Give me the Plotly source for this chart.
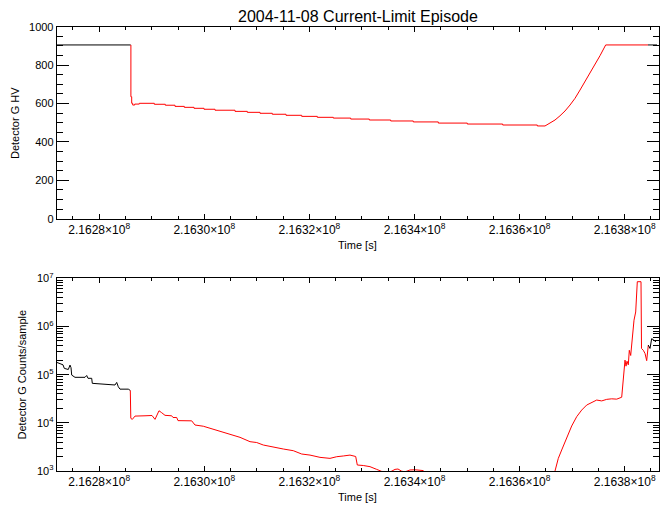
import plotly.graph_objects as go

# ---------------- data ----------------
# Top panel: Detector G HV (volts) vs time [s]
hv_black_t = [216271912, 216285994]
hv_black_v = [905, 905]

hv_step_t = [216285994, 216286033, 216286185, 216286375, 216286756, 216287631,
             216290486, 216292579, 216294425, 216296195, 216298040, 216299943,
             216302037, 216305843, 216308183, 216310600, 216312941, 216315548,
             216318536, 216321504, 216324549, 216327861, 216331400, 216335473,
             216339773, 216344531, 216350050, 216356786, 216363370, 216364836]
hv_step_v = [905, 635, 601, 592, 597, 601,
             596, 591, 585, 580, 575, 570,
             565, 559, 554, 549, 544, 538.5,
             533, 528, 524, 519, 514, 509,
             504, 498, 493, 488, 483, 483]

hv_ramp_t = [216364836, 216365787, 216366739, 216367690, 216368642, 216369593,
             216370545, 216371496, 216372448, 216373399, 216374351, 216375302,
             216376387, 216384437]
hv_ramp_v = [483, 497, 514, 536, 561, 592,
             627, 670, 714, 757, 800, 849,
             905, 905]

hv_end_t = [216384437, 216386149]
hv_end_v = [905, 905]

# Bottom panel: Detector G counts/sample vs time [s]
cnt_black_t = [216271912, 216272540, 216273111, 216273359, 216274120, 216274443,
               216274633, 216274767, 216275395, 216277298, 216277621, 216277869,
               216278573, 216278687, 216281104, 216283007, 216283330, 216283635,
               216283958, 216285538, 216285918]
cnt_black_v = [1.8e5, 1.7e5, 1.6e5, 1.35e5, 1.28e5, 1.58e5,
               1.4e5, 9.8e4, 8.8e4, 8.8e4, 9.6e4, 8.4e4,
               8.4e4, 6.6e4, 6.4e4, 6.1e4, 6.9e4, 5.6e4,
               5.0e4, 5.0e4, 4.7e4]

cnt_red_t = [216285918, 216286013, 216286299, 216286813, 216288716, 216290048,
             216290619, 216291380, 216291894, 216292522, 216293797, 216294044,
             216294748, 216294996, 216297603, 216298231, 216299810, 216301085,
             216302988, 216304891, 216306794, 216308697, 216309972, 216311228,
             216313131, 216315034, 216316937, 216318536, 216320115, 216322018,
             216323921, 216325196, 216326452, 216327727, 216328812, 216329116,
             216330258, 216331533, 216332808, 216333760, 216335339, 216336291,
             216336862, 216337566, 216338194, 216339145, 216340097, 216341676,
             216342000, 216346757, 216356272, 216365787, 216366739, 216367367,
             216368014, 216368642, 216369270, 216369917, 216370868, 216371820,
             216372771, 216373723, 216374674, 216375626, 216376577, 216377529,
             216378480, 216379432, 216379622, 216379869, 216380060, 216380250,
             216380440, 216380688, 216380878, 216381144, 216381335, 216381525,
             216381772, 216382096, 216382286, 216382400, 216383105, 216383200,
             216383542, 216383866, 216384189, 216384494]
cnt_red_v = [4.7e4, 1.24e4, 1.18e4, 1.38e4, 1.40e4, 1.42e4,
             1.18e4, 1.78e4, 1.62e4, 1.43e4, 1.40e4, 1.29e4,
             1.29e4, 1.11e4, 1.10e4, 9.0e3, 8.5e3, 7.7e3,
             6.5e3, 5.8e3, 5.0e3, 4.06e3, 3.9e3, 3.46e3,
             3.2e3, 2.86e3, 2.64e3, 2.25e3, 2.14e3, 1.92e3,
             1.83e3, 1.98e3, 2.05e3, 2.14e3, 2.0e3, 1.33e3,
             1.30e3, 1.23e3, 1.08e3, 980, 950, 1.08e3,
             1.10e3, 990, 960, 1.05e3, 1.06e3, 1.02e3,
             900, 800, 700, 700, 1.0e3, 1.83e3,
             2.73e3, 4.06e3, 6.0e3, 8.6e3, 1.34e4, 1.84e4,
             2.34e4, 2.66e4, 2.97e4, 2.85e4, 3.07e4, 3.15e4,
             3.1e4, 3.4e4, 6.6e4, 1.5e5, 2.0e5, 1.5e5,
             1.9e5, 1.6e5, 3.2e5, 2.5e5, 4.8e5, 8.4e5,
             1.35e6, 2.0e6, 4.1e6, 8.5e6, 8.5e6, 3.5e5,
             3.2e5, 2.76e5, 1.95e5, 4.1e5]

cnt_end_t = [216384494, 216384817, 216385141, 216385578, 216385959]
cnt_end_v = [4.1e5, 3.5e5, 5.6e5, 5.2e5, 4.8e5]

x_tickvals = [2.1628e8, 2.1630e8, 2.1632e8, 2.1634e8, 2.1636e8, 2.1638e8]
x_ticktext = ["2.1628×10<sup>8</sup>", "2.1630×10<sup>8</sup>", "2.1632×10<sup>8</sup>",
              "2.1634×10<sup>8</sup>", "2.1636×10<sup>8</sup>", "2.1638×10<sup>8</sup>"]
hv_tickvals = [0, 200, 400, 600, 800, 1000]
log_tickvals = [1e3, 1e4, 1e5, 1e6, 1e7]
log_ticktext = ["10<sup>3</sup>", "10<sup>4</sup>", "10<sup>5</sup>", "10<sup>6</sup>", "10<sup>7</sup>"]

title_text = "2004-11-08 Current-Limit Episode"

# ---------------- figure ----------------
W, H = 670, 511
FONT = "Liberation Sans"
fig = go.Figure()

def add(x, y, color, shape, xa, ya):
    fig.add_trace(go.Scatter(x=x, y=y, mode="lines",
                             line=dict(color=color, width=1, shape=shape),
                             xaxis=xa, yaxis=ya, showlegend=False, hoverinfo="skip"))

add(hv_black_t, hv_black_v, "black", "hv", "x", "y")
add(hv_step_t, hv_step_v, "#ff0000", "hv", "x", "y")
add(hv_ramp_t, hv_ramp_v, "#ff0000", "linear", "x", "y")
add(hv_end_t, hv_end_v, "black", "hv", "x", "y")

add(cnt_black_t, cnt_black_v, "black", "linear", "x2", "y2")
add(cnt_red_t, cnt_red_v, "#ff0000", "linear", "x2", "y2")
add(cnt_end_t, cnt_end_v, "black", "linear", "x2", "y2")

xrange = [216271912, 216386530]
xdom = [56.7 / W, 659 / W]
top_dom = [1 - 218.7 / H, 1 - 26.7 / H]
bot_dom = [1 - 471 / H, 1 - 278.3 / H]

ytickfont = dict(family=FONT, size=11, color="black")
xtickfont = dict(family=FONT, size=12, color="black")

def xaxis_cfg(anchor):
    return dict(domain=xdom, range=xrange, anchor=anchor, showgrid=False, zeroline=False,
                automargin=False,
                showline=True, linecolor="black", linewidth=1, mirror="allticks",
                ticks="inside", ticklen=5, tickcolor="black", tickwidth=1,
                tickmode="array", tickvals=x_tickvals, ticktext=x_ticktext,
                tickfont=xtickfont,
                minor=dict(ticks="inside", ticklen=3, tickcolor="black", tickwidth=1,
                           dtick=5000, tick0=2.1628e8, showgrid=False))

minor_log = [m * 10 ** e for e in range(3, 7) for m in range(2, 10)]

fig.update_layout(
    template="none",
    width=W, height=H, autosize=False,
    margin=dict(l=0, r=0, t=0, b=0, pad=0),
    paper_bgcolor="white", plot_bgcolor="white",
    font=dict(family=FONT, size=11, color="black"),
    xaxis=xaxis_cfg("y"),
    xaxis2=xaxis_cfg("y2"),
    yaxis=dict(domain=top_dom, range=[0, 1000], anchor="x", showgrid=False, zeroline=False,
               automargin=False,
               showline=True, linecolor="black", linewidth=1, mirror="allticks",
               ticks="inside", ticklen=12, tickcolor="black", tickwidth=1,
               tickmode="array", tickvals=hv_tickvals, tickfont=ytickfont,
               minor=dict(ticks="inside", ticklen=6, tickcolor="black", tickwidth=1,
                          dtick=50, tick0=0, showgrid=False)),
    yaxis2=dict(domain=bot_dom, type="log", range=[3, 7], anchor="x2", showgrid=False,
                automargin=False,
                zeroline=False, showline=True, linecolor="black", linewidth=1,
                mirror="allticks", ticks="inside", ticklen=12, tickcolor="black", tickwidth=1,
                tickmode="array", tickvals=log_tickvals, ticktext=log_ticktext,
                tickfont=ytickfont,
                minor=dict(ticks="inside", ticklen=6, tickcolor="black", tickwidth=1,
                           tickmode="array", tickvals=minor_log, showgrid=False)),
)

ann_font = dict(family=FONT, size=11, color="black")
fig.add_annotation(text=title_text, x=357.5 / W, y=1 - 17 / H, xref="paper", yref="paper",
                   showarrow=False, xanchor="center", yanchor="middle",
                   font=dict(family=FONT, size=16, color="black"))
fig.add_annotation(text="Time [s]", x=357.5 / W, y=1 - 245 / H, xref="paper", yref="paper",
                   showarrow=False, xanchor="center", yanchor="middle", font=ann_font)
fig.add_annotation(text="Time [s]", x=357.5 / W, y=1 - 497 / H, xref="paper", yref="paper",
                   showarrow=False, xanchor="center", yanchor="middle", font=ann_font)
fig.add_annotation(text="Detector G HV", x=15 / W, y=1 - 123 / H, xref="paper", yref="paper",
                   showarrow=False, xanchor="center", yanchor="middle", textangle=-90,
                   font=ann_font)
fig.add_annotation(text="Detector G Counts/sample", x=21.5 / W, y=1 - 375 / H, xref="paper",
                   yref="paper", showarrow=False, xanchor="center", yanchor="middle",
                   textangle=-90, font=ann_font)

fig.write_html("out.html", config={"displayModeBar": False},
               post_script="document.body.style.margin='0';document.body.style.overflow='hidden';")
